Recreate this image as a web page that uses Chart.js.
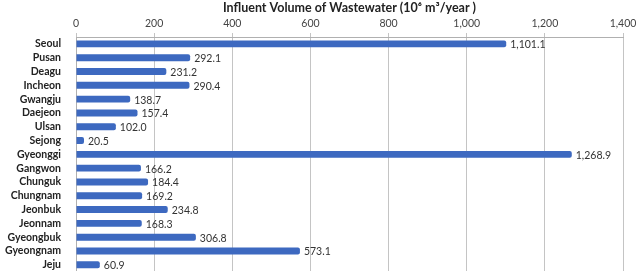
<!DOCTYPE html>
<html>
<head>
<meta charset="utf-8">
<script src="https://cdn.jsdelivr.net/npm/chart.js@4"></script>
<style>
  html, body { margin: 0; padding: 0; background: #fff; overflow: hidden; }
  #wrap { width: 644px; height: 271px; overflow: hidden; }
</style>
</head>
<body>
<div id="wrap"><canvas id="c" width="644" height="285"></canvas></div>
<script>
// regions and influent volume (10^6 m3/year)
const regions = ['Seoul', 'Pusan', 'Deagu', 'Incheon', 'Gwangju', 'Daejeon', 'Ulsan', 'Sejong',
  'Gyeonggi', 'Gangwon', 'Chunguk', 'Chungnam', 'Jeonbuk', 'Jeonnam', 'Gyeongbuk', 'Gyeongnam', 'Jeju'];
const volumes = [1101.1, 292.1, 231.2, 290.4, 138.7, 157.4, 102.0, 20.5,
  1268.9, 166.2, 184.4, 169.2, 234.8, 168.3, 306.8, 573.1, 60.9];
const xTicks = [0, 200, 400, 600, 800, 1000, 1200, 1400];
const chartTitle = 'Influent Volume of Wastewater (10\u2076 m\u00b3/year )';

const fmt = v => v.toLocaleString('en-US', { minimumFractionDigits: 1, maximumFractionDigits: 1 });

// value labels at the end of each bar
const valueLabels = {
  id: 'valueLabels',
  afterDatasetsDraw(chart) {
    const ctx = chart.ctx;
    const meta = chart.getDatasetMeta(0);
    ctx.save();
    ctx.font = '10.5px Lato, "DejaVu Sans", sans-serif';
    ctx.fillStyle = '#333';
    ctx.textBaseline = 'middle';
    meta.data.forEach((bar, i) => {
      ctx.fillText(fmt(volumes[i]), bar.x + 4, bar.y + 1);
    });
    ctx.restore();
  }
};

// bar fill: light to darker blue top to bottom
function barFill(context) {
  const el = context.element;
  const ctx = context.chart.ctx;
  if (!el || el.y === undefined || isNaN(el.y)) return '#3d69c0';
  const g = ctx.createLinearGradient(0, el.y - 3.5, 0, el.y + 3.5);
  g.addColorStop(0, '#7399dd');
  g.addColorStop(0.45, '#3d69c0');
  g.addColorStop(1, '#2a55a8');
  return g;
}

new Chart(document.getElementById('c').getContext('2d'), {
  type: 'bar',
  data: {
    labels: regions,
    datasets: [{
      data: volumes,
      backgroundColor: barFill,
      borderWidth: 0,
      borderRadius: 2,
      borderSkipped: 'start',
      barPercentage: 0.5,
      categoryPercentage: 1
    }]
  },
  options: {
    indexAxis: 'y',
    responsive: false,
    animation: false,
    layout: { padding: { left: 0, right: 21, top: 0, bottom: 0 } },
    plugins: {
      legend: { display: false },
      tooltip: { enabled: false }
    },
    scales: {
      x: {
        position: 'top',
        min: 0,
        max: 1400,
        afterBuildTicks(scale) { scale.ticks = xTicks.map(v => ({ value: v })); },
        afterFit(scale) { scale.height = 37; },
        ticks: {
          color: '#444',
          font: { family: 'Lato, "DejaVu Sans", sans-serif', size: 10.5 },
          padding: 3,
          maxRotation: 0,
          callback: v => v.toLocaleString('en-US')
        },
        grid: { color: '#c4c4c4', lineWidth: 1, tickLength: 4, drawTicks: true },
        border: { color: '#b0b0b0' },
        title: {
          display: true,
          text: chartTitle,
          color: '#222',
          font: { family: 'Lato, "DejaVu Sans", sans-serif', size: 12.5, weight: 'bold' },
          padding: { top: 0, bottom: 0 }
        }
      },
      y: {
        afterFit(scale) { scale.width = 76; },
        ticks: {
          color: '#222',
          font: { family: 'Lato, "DejaVu Sans", sans-serif', size: 10.5, weight: 'bold' },
          padding: 7,
          autoSkip: false
        },
        grid: { display: false },
        border: { color: '#b0b0b0' }
      }
    }
  },
  plugins: [valueLabels]
});
</script>
</body>
</html>
